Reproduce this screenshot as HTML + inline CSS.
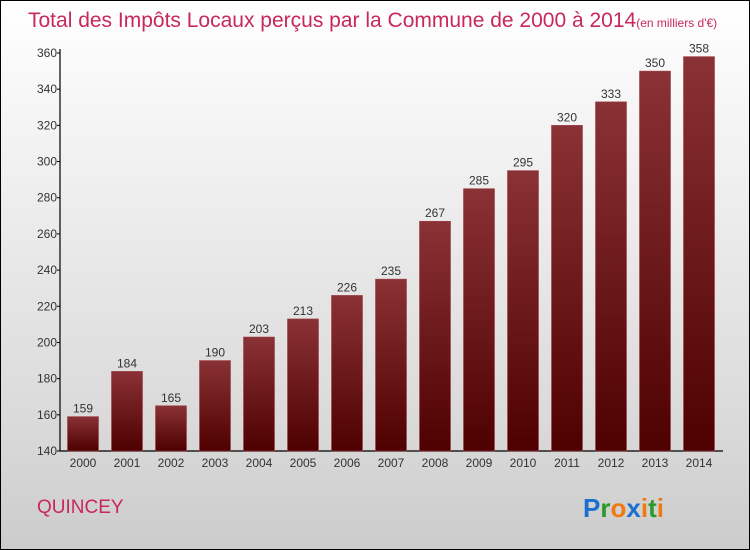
<!DOCTYPE html>
<html><head><meta charset="utf-8">
<style>
body{margin:0;}
#wrap{position:relative;width:748px;height:548px;border:1px solid #000;background:linear-gradient(#ffffff,#f3f3f3 25%,#d8d8d8 80%,#cccccc);overflow:hidden;font-family:"Liberation Sans",sans-serif;}
</style></head>
<body>
<div id="wrap">
<svg id="chart" width="748" height="548">
<defs>
<linearGradient id="barg" x1="0" y1="0" x2="0" y2="1">
<stop offset="0" stop-color="#8a3236"/><stop offset="1" stop-color="#4e0000"/>
</linearGradient>
</defs>
<text x="27" y="26" font-size="21" fill="#c8285a">Total des Impôts Locaux perçus par la Commune de 2000 à 2014<tspan font-size="12">(en milliers d'€)</tspan></text>
<g id="axes"></g>
<g id="bars"></g>
<text x="36" y="512" font-size="19" fill="#c8285a">QUINCEY</text>
<text x="582" y="516" font-size="26" font-weight="bold"><tspan fill="#1a6fd0">P</tspan><tspan fill="#2a9a2a">r</tspan><tspan fill="#f07a10">o</tspan><tspan fill="#1a6fd0">x</tspan><tspan fill="#f07a10">i</tspan><tspan fill="#2a9a2a">t</tspan><tspan fill="#f07a10">i</tspan></text>
</svg>
</div>
<script>
const years=["2000","2001","2002","2003","2004","2005","2006","2007","2008","2009","2010","2011","2012","2013","2014"];
const values=[159,184,165,190,203,213,226,235,267,285,295,320,333,350,358];
const yTicks=[140,160,180,200,220,240,260,280,300,320,340,360];
const NS="http://www.w3.org/2000/svg";
const yMin=140,yMax=360,plotTop=52,plotBottom=450,x0=59,step=44,bw=31;
function yS(v){return plotBottom-(v-yMin)/(yMax-yMin)*(plotBottom-plotTop);}
function xc(i){return x0+23+i*step;}
const axes=document.getElementById('axes'),bars=document.getElementById('bars');
function mk(tag,attrs,p){const e=document.createElementNS(NS,tag);for(const k in attrs)e.setAttribute(k,attrs[k]);p.appendChild(e);return e;}
const ya=mk('line',{x1:x0,y1:plotTop-4,x2:x0,y2:plotBottom,stroke:'#000','stroke-width':1.2},axes);


const xa=mk('line',{x1:x0,y1:plotBottom,x2:722,y2:plotBottom,stroke:'#000','stroke-width':1.2},axes);


yTicks.forEach(t=>{
  mk('line',{x1:x0-3,y1:yS(t),x2:x0,y2:yS(t),stroke:'#000'},axes);
  const tx=mk('text',{x:x0-3,y:yS(t)+4,'font-size':12,'text-anchor':'end',fill:'#333'},axes);
  tx.textContent=t;
  
  
});
years.forEach((yr,i)=>{
  const v=values[i];
  const r=mk('rect',{x:xc(i)-bw/2,y:yS(v),width:bw,height:plotBottom-yS(v),fill:'url(#barg)',stroke:'#a04048','stroke-width':0.6},bars);
  
  
  const l=mk('text',{x:xc(i),y:yS(v)-4,'font-size':12,'text-anchor':'middle',fill:'#333'},bars);
  l.textContent=v;
  
  
  const xl=mk('text',{x:xc(i),y:plotBottom+16,'font-size':12,'text-anchor':'middle',fill:'#333'},axes);
  xl.textContent=yr;
  
  
});
</script>
</body></html>
